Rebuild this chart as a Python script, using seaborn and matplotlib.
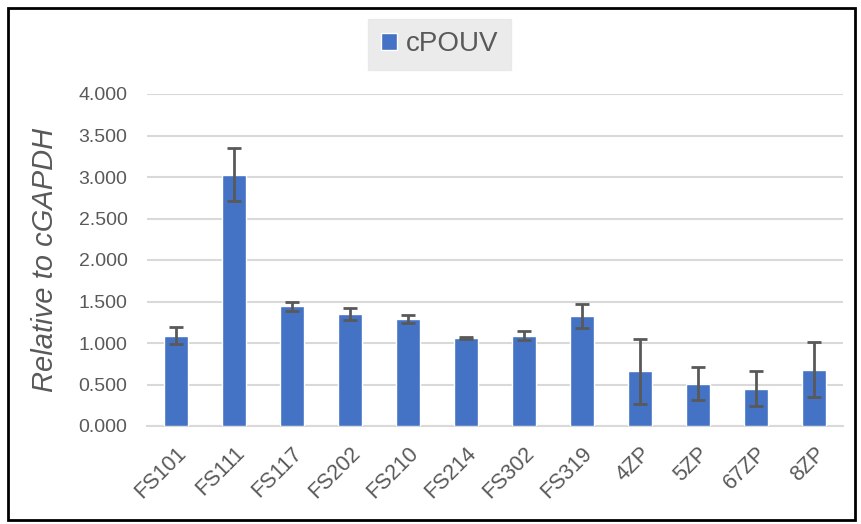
import pandas as pd
import matplotlib.pyplot as plt
import seaborn as sns
from matplotlib.patches import Rectangle

samples = ['FS101', 'FS111', 'FS117', 'FS202', 'FS210', 'FS214',
           'FS302', 'FS319', '4ZP', '5ZP', '67ZP', '8ZP']
rel_expr = [1.09, 3.03, 1.44, 1.35, 1.29, 1.06, 1.09, 1.32, 0.66, 0.51, 0.45, 0.68]
err = [0.105, 0.32, 0.06, 0.07, 0.045, 0.01, 0.05, 0.145, 0.39, 0.20, 0.215, 0.335]

df = pd.DataFrame({'Sample': samples, 'Value': rel_expr})

sns.set_style('white')
plt.rcParams['font.family'] = ['Liberation Sans', 'DejaVu Sans']

fig = plt.figure(figsize=(8.61, 5.24), dpi=100)
ax = fig.add_axes([147 / 861, 1 - 426 / 524, 696 / 861, 332 / 524])

sns.barplot(data=df, x='Sample', y='Value', color='#4472C4', width=0.41,
            saturation=1, label='cPOUV', ax=ax, zorder=3)
ax.errorbar(range(len(samples)), rel_expr, yerr=err, fmt='none',
            ecolor='#595959', elinewidth=2, capsize=5, capthick=2, zorder=4)

ax.set_xlim(-0.5, len(samples) - 0.5)
ax.set_ylim(0, 4.0)
ax.set_yticks([i * 0.5 for i in range(9)])
ax.set_yticklabels(['{:.3f}'.format(i * 0.5) for i in range(9)])
ax.yaxis.grid(True, color='#d9d9d9', linewidth=1.5, zorder=0)
ax.set_axisbelow(True)
for s in ['top', 'right', 'left']:
    ax.spines[s].set_visible(False)
ax.spines['bottom'].set_color('#d9d9d9')
ax.spines['bottom'].set_linewidth(1.5)
ax.tick_params(axis='y', length=0, labelsize=14, labelcolor='#595959', pad=14)
ax.tick_params(axis='x', length=0, labelsize=15.5, labelcolor='#595959', pad=12)
plt.setp(ax.get_xticklabels(), rotation=45, ha='right', rotation_mode='anchor')
ax.set_xlabel('')
ax.set_ylabel('Relative to cGAPDH', fontsize=21, style='italic', color='#595959', labelpad=14)

leg = ax.legend(loc='center', bbox_to_anchor=(0.42, 1.15), frameon=True,
                fontsize=20, handlelength=0.6, handleheight=0.6, handletextpad=0.3,
                borderpad=0.45, borderaxespad=0, fancybox=False)
leg.get_frame().set_facecolor('#e7e6e6')
leg.get_frame().set_edgecolor('#e7e6e6')
for t in leg.get_texts():
    t.set_color('#595959')

fig.patches.append(Rectangle((8 / 861, 4 / 524), 847 / 861, 512 / 524, transform=fig.transFigure,
                             fill=False, edgecolor='black', linewidth=2))

fig.savefig('out.png', dpi=100)
